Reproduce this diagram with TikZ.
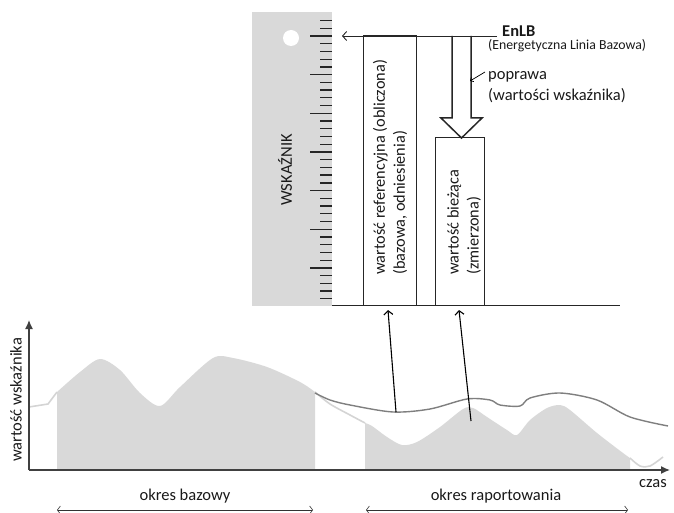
\documentclass[tikz,border=0pt]{standalone}
\usepackage{fontspec}
\setmainfont{Carlito}
\usetikzlibrary{arrows.meta}

\definecolor{lightgray}{HTML}{D9D9D9}
\definecolor{palegray}{HTML}{D4D4D4}
\definecolor{curvegray}{HTML}{7F7F7F}
\definecolor{axisgray}{HTML}{404040}

\tikzset{
  txt/.style={font=\fontsize{16.5}{19}\selectfont, text=black!90, inner sep=0pt},
  small/.style={font=\fontsize{13.8}{16}\selectfont, text=black!90, inner sep=0pt},
  valbox/.style={draw=black!85, line width=1pt, inner sep=0pt},
  valtext/.style={rotate=90, anchor=west, align=left, inner sep=0pt,
                  font=\fontsize{16.3}{20}\selectfont, text=black!90},
  paleline/.style={palegray, line width=1.6pt},
  curveline/.style={curvegray, line width=1.4pt},
  axis/.style={axisgray, line width=1.4pt, -{Latex[length=9pt,width=8pt]}},
  period/.style={black!80, line width=0.6pt, {Straight Barb[length=3pt,width=8pt]}-{Straight Barb[length=3pt,width=8pt]}},
  pointer/.style={black, line width=1.1pt, -{Straight Barb[length=4pt,width=9pt]}}
}

\begin{document}
\begin{tikzpicture}[x=1pt,y=-1pt]
\useasboundingbox (0,0) rectangle (674,513);

% ruler with ticks
\node[fill=lightgray, minimum width=80pt, minimum height=294pt, inner sep=0pt] (ruler) at (292,159) {};
\fill[white] (291,38) circle (8pt);
\foreach \k in {-2,...,34}{
  \pgfmathsetmacro\len{mod(\k+10,5)==0 ? 22 : 12}
  \draw[black!85, line width=1.3pt] (332,{36+7.73*(\k)}) -- ++(-\len,0);
}
\node[txt, rotate=90] (wsk) at (285,170) {WSKAŹNIK};
\draw[black!85, line width=1pt] (332,305) -- (620,305);

% reference and current values
\node[valbox, minimum width=53pt, minimum height=269pt] (refbox) at (389.5,170.5) {};
\node[valbox, minimum width=49pt, minimum height=167pt] (curbox) at (459.5,221.5) {};
\node[valtext] (reftext) at (390,275) {wartość referencyjna (obliczona)\\(bazowa, odniesienia)};
\node[valtext] (curtext) at (464,275) {wartość bieżąca\\(zmierzona)};

% baseline level
\node[txt, anchor=base west, font=\fontsize{16.5}{19}\selectfont\bfseries] (enlb) at (502,37) {EnLB};
\node[small, anchor=base west] (enlbfull) at (488,50) {(Energetyczna Linia Bazowa)};
\coordinate (enlbend) at (497,36);
\coordinate (enlbtip) at (342,36);
\draw[black!85, line width=0.9pt, -{Straight Barb[length=4pt,width=9pt]}] (enlbend) -- (enlbtip);

% improvement arrow
\draw[black!85, line width=1.5pt, line join=miter]
  (452,36) -- (452,118) -- (441,118) -- (461.5,138) -- (482,118) -- (471,118) -- (471,36);
\node[txt, anchor=base west] (popr) at (488,80) {poprawa};
\node[txt, anchor=base west] (poprsub) at (488,101) {(wartości wskaźnika)};
\coordinate (poprfrom) at (485,72);
\coordinate (poprto) at (470,81);
\draw[black, line width=0.7pt, -{Straight Barb[length=2.5pt,width=5pt]}] (poprfrom) -- (poprto);

% time series
\fill[lightgray] (57,470) -- plot[smooth] coordinates {(57,392) (80,372) (100,359) (120,370) (140,393) (160,406)
  (180,387) (213,358) (233,358) (267,367) (300,382) (315,392)} -- (315,470) -- cycle;
\fill[lightgray] (365,470) -- plot[smooth] coordinates {(365,423) (372,426) (387,437) (402,445) (417,442) (440,427)
  (463,409) (473,408) (487,417) (507,430) (517,435) (530,420) (547,408) (560,405) (570,410) (597,433)
  (623,453) (630,458)} -- (630,470) -- cycle;
\draw[paleline] (29,407) -- (48,404) -- (57,392);
\draw[paleline] plot[smooth] coordinates {(315,392) (330,404) (350,415) (365,423)};
\draw[paleline] plot[smooth] coordinates {(630,458) (640,466) (650,466) (663,457)};
\draw[curveline] plot[smooth] coordinates {(315,393) (330,400) (350,405) (393,412) (430,409) (467,399)
  (490,400) (500,405) (520,406) (530,398) (560,393) (597,400) (630,417) (668,426)};

% axes
\coordinate (origin) at (29,470);
\coordinate (ytop) at (29,320);
\coordinate (xend) at (670,470);
\draw[axis] (origin) -- (ytop);
\draw[axis] (origin) -- (xend);
\node[txt, rotate=90] (ylab) at (16,400) {wartość wskaźnika};
\node[txt, anchor=base] (czas) at (653,487) {czas};

% links to values
\coordinate (refpt) at (396,412);
\coordinate (reftip) at (388,310);
\coordinate (curpt) at (471,421);
\coordinate (curtip) at (459,310);
\draw[pointer] (refpt) -- (reftip);
\draw[pointer] (curpt) -- (curtip);

% periods
\node[txt, anchor=base] (baselab) at (185,500) {okres bazowy};
\node[txt, anchor=base] (replab) at (496,500) {okres raportowania};
\coordinate (basel) at (57,510);
\coordinate (baser) at (313,510);
\coordinate (repl) at (366,510);
\coordinate (repr) at (628,510);
\draw[period] (basel) -- (baser);
\draw[period] (repl) -- (repr);
\end{tikzpicture}
\end{document}
